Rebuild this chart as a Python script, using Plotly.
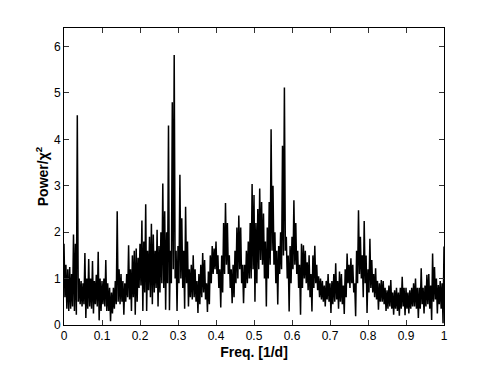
import plotly.graph_objects as go

# Periodogram: local maxima (at f = 0, 0.005, ..., 1.0)
# and local minima (at f = 0.0025, 0.0075, ..., 0.9975)
peak_freq_step = 0.005
power_peaks = [
    1.75, 1.30, 1.20, 1.25, 1.10, 1.95, 1.75, 4.52, 1.00, 0.95,
    0.90, 1.55, 1.00, 1.42, 1.00, 1.38, 0.95, 1.08, 1.58, 1.00,
    0.95, 1.00, 1.40, 0.90, 0.80, 0.70, 0.80, 0.95, 2.45, 1.20,
    1.10, 0.95, 0.90, 1.10, 1.72, 1.20, 1.50, 1.60, 1.65, 1.45,
    1.75, 2.25, 1.80, 2.60, 1.60, 1.90, 2.18, 1.95, 1.60, 2.05,
    1.70, 2.00, 3.05, 2.45, 2.00, 4.30, 1.60, 4.80, 5.82, 1.60,
    1.70, 3.24, 2.30, 1.60, 2.55, 1.80, 1.20, 1.30, 1.50, 1.20,
    0.95, 1.10, 1.30, 1.55, 1.40, 0.90, 1.15, 1.50, 1.70, 1.65,
    1.80, 1.50, 1.20, 1.50, 2.20, 2.63, 2.20, 1.50, 1.20, 1.30,
    1.60, 2.10, 2.36, 2.10, 1.30, 1.30, 1.60, 1.80, 2.20, 3.04,
    2.80, 2.20, 2.50, 2.94, 2.65, 2.40, 1.80, 2.10, 2.65, 4.22,
    3.00, 2.00, 1.60, 1.70, 2.00, 3.86, 5.12, 1.90, 1.50, 1.70,
    1.90, 2.69, 2.20, 1.60, 1.30, 1.75, 1.72, 1.60, 1.35, 1.50,
    1.10, 1.50, 1.71, 1.30, 1.05, 1.00, 0.95, 0.85, 0.95, 1.10,
    0.90, 0.95, 1.10, 1.33, 0.95, 1.15, 1.10, 0.85, 1.20, 1.54,
    1.30, 1.44, 1.30, 0.90, 1.60, 2.47, 1.90, 1.50, 2.24, 1.50,
    1.20, 1.86, 1.40, 1.10, 1.22, 0.95, 0.90, 0.97, 0.95, 0.80,
    0.75, 0.85, 0.97, 0.70, 0.75, 0.80, 0.70, 0.80, 1.04, 0.80,
    0.80, 0.70, 0.75, 0.80, 0.90, 1.00, 0.80, 0.80, 1.22, 0.80,
    0.85, 1.08, 1.10, 0.85, 1.54, 1.25, 1.00, 0.86, 0.95, 0.90,
    1.69,
]
power_troughs = [
    0.60, 0.35, 0.30, 0.35, 0.40, 0.30, 0.22, 0.50, 0.45, 0.40,
    0.45, 0.15, 0.35, 0.40, 0.35, 0.25, 0.45, 0.40, 0.10, 0.30,
    0.45, 0.40, 0.30, 0.30, 0.08, 0.25, 0.35, 0.45, 0.50, 0.45,
    0.50, 0.22, 0.50, 0.60, 0.55, 0.30, 0.60, 0.22, 0.50, 0.80,
    0.85, 0.30, 0.70, 0.30, 0.75, 0.60, 0.45, 0.70, 0.80, 0.40,
    0.70, 0.90, 0.80, 0.33, 0.90, 0.32, 0.90, 1.20, 1.00, 0.30,
    0.90, 1.00, 0.80, 0.35, 0.90, 0.40, 0.60, 0.55, 0.60, 0.50,
    0.26, 0.45, 0.60, 0.70, 0.55, 0.28, 0.45, 0.90, 1.10, 1.20,
    1.10, 0.80, 0.38, 0.70, 1.10, 1.30, 1.10, 0.80, 0.47, 0.60,
    0.90, 1.00, 1.20, 0.90, 0.47, 0.80, 0.90, 1.00, 1.00, 1.20,
    0.50, 0.90, 1.20, 1.40, 1.30, 1.00, 0.40, 1.00, 1.30, 1.60,
    1.30, 0.90, 0.44, 1.10, 1.20, 1.50, 1.60, 1.00, 0.29, 0.90,
    1.20, 1.30, 1.10, 0.80, 0.22, 0.80, 1.00, 0.90, 0.75, 0.60,
    0.29, 0.80, 0.90, 0.75, 0.60, 0.55, 0.50, 0.40, 0.55, 0.50,
    0.26, 0.45, 0.50, 0.55, 0.35, 0.50, 0.45, 0.24, 0.60, 0.90,
    0.80, 0.90, 0.70, 0.19, 0.90, 1.10, 1.00, 0.60, 0.90, 0.26,
    0.70, 0.80, 0.70, 0.60, 0.55, 0.33, 0.50, 0.50, 0.45, 0.30,
    0.35, 0.40, 0.35, 0.22, 0.35, 0.30, 0.20, 0.35, 0.40, 0.21,
    0.35, 0.25, 0.35, 0.40, 0.40, 0.35, 0.15, 0.35, 0.45, 0.25,
    0.40, 0.45, 0.35, 0.11, 0.50, 0.55, 0.25, 0.45, 0.35, 0.04,
]
x_ticks = [0, 0.1, 0.2, 0.3, 0.4, 0.5, 0.6, 0.7, 0.8, 0.9, 1]
x_tick_labels = ["0", "0.1", "0.2", "0.3", "0.4", "0.5", "0.6", "0.7", "0.8", "0.9", "1"]
y_ticks = [0, 1, 2, 3, 4, 5, 6]

freq = []
power = []
for i, p in enumerate(power_peaks):
    freq.append(i * peak_freq_step)
    power.append(p)
    if i < len(power_troughs):
        freq.append(i * peak_freq_step + peak_freq_step / 2)
        power.append(power_troughs[i])

fig = go.Figure()
fig.add_trace(go.Scatter(x=freq, y=power, mode="lines",
                         line=dict(color="black", width=1.5), showlegend=False))

axis_common = dict(showgrid=False, zeroline=False, ticks="inside", ticklen=5,
                   tickcolor="#333", showline=True, linecolor="black", linewidth=1,
                   mirror="ticks", tickfont=dict(family="Liberation Sans, Arial", size=12, color="black"))
fig.update_xaxes(range=[0, 1], tickvals=x_ticks, ticktext=x_tick_labels,
                 title=dict(text="<b>Freq. [1/d]</b>", standoff=4,
                            font=dict(family="Liberation Sans, Arial", size=14, color="black")),
                 **axis_common)
fig.update_yaxes(range=[0, 6.4], tickvals=y_ticks,
                 title=dict(text="<b>Power/χ<sup>2</sup></b>", standoff=2,
                            font=dict(family="Liberation Sans, Arial", size=14, color="black")),
                 **axis_common)
fig.update_layout(width=491, height=369, margin=dict(l=64, r=47, t=28, b=42),
                  plot_bgcolor="white", paper_bgcolor="white")
fig.write_html("out.html")
